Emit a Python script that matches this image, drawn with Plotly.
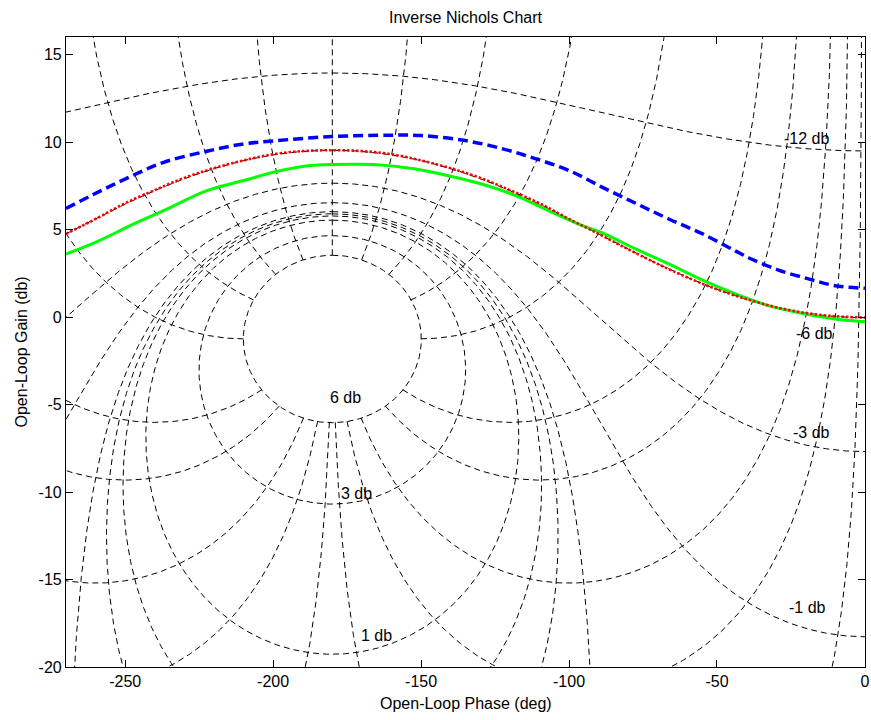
import numpy as np
import plotly.graph_objects as go

# ---------------- chart data ----------------
# closed-loop magnitude contours (dB) and closed-loop phase contours (deg) of the grid
grid_mag_db = [6, 3, 1, 0.5, 0.25, 0, -1, -3, -6, -12, -20]
grid_phase_deg = [1, 5, 10, 20, 30, 60, 90, 120, 150, 180]

label_text = ["6 db", "3 db", "1 db", "-1 db", "-3 db", "-6 db", "-12 db"]
label_phase = [-175.4, -171.9, -165.2, -19.5, -18.1, -17.1, -19.6]
label_gain = [-4.6, -10.1, -18.2, -16.6, -6.6, -0.95, 10.2]

x_ticks = [-250, -200, -150, -100, -50, 0]
y_ticks = [-20, -15, -10, -5, 0, 5, 10, 15]

blue_phase = [-270, -259, -248.3, -237, -222.4, -210, -198.8, -180, -160, -150, -135, -122.4,
              -111.2, -100, -88.7, -77.5, -66.3, -55, -43.8, -38.2, -29.2, -19.1, -10.1, 0]
blue_gain = [6.2, 7.15, 8.02, 8.84, 9.47, 9.89, 10.08, 10.31, 10.39, 10.37, 10.08, 9.61,
             9.04, 8.37, 7.41, 6.5, 5.6, 4.76, 3.78, 3.3, 2.68, 2.18, 1.79, 1.64]

red_phase = [-270, -260, -250, -240, -230, -220, -210, -200, -190, -180, -170, -160, -150,
             -140, -130, -120, -110, -100, -90, -80, -70, -60, -50, -40, -30, -20, -10, 0]
red_gain = [4.75, 5.6, 6.5, 7.25, 7.95, 8.5, 8.95, 9.3, 9.48, 9.53, 9.48, 9.3, 8.95,
            8.5, 7.95, 7.25, 6.5, 5.6, 4.75, 3.87, 3.03, 2.26, 1.58, 1.02, 0.56, 0.23, 0.04, -0.03]

green_phase = [-270, -259.5, -248.3, -237, -222.4, -210, -198.8, -190, -180, -166, -152, -140,
               -129, -118, -107, -95.5, -88.7, -77.5, -66.3, -55, -43.8, -32.6, -21.3, -10.1, 0]
green_gain = [3.6, 4.31, 5.22, 6.08, 7.22, 7.8, 8.31, 8.6, 8.71, 8.71, 8.46, 8.04,
              7.57, 6.94, 6.08, 5.22, 4.8, 3.89, 3.03, 2.12, 1.32, 0.65, 0.21, -0.11, -0.27]

# ---------------- grid construction ----------------
PX_PER_DEG = 2.967
PX_PER_DB = 17.49


def to_nichols(w):
    ang = np.degrees(np.angle(w))
    ph = np.where(ang > 0, ang - 360.0, ang)
    with np.errstate(divide="ignore"):
        g = 20 * np.log10(np.abs(w))
    return ph, g


def segments(ph, g, xs, ys):
    ok = np.isfinite(g) & (g > -30) & (g < 22) & (ph > -300) & (ph < 10)
    cur_x, cur_y = [], []
    last = None
    prev_i = None

    def flush():
        if len(cur_x) > 1:
            xs.extend(cur_x + [None])
            ys.extend(cur_y + [None])

    for i in range(len(ph)):
        if not ok[i] or (prev_i is not None and abs(ph[i] - ph[prev_i]) > 90):
            if prev_i is not None and (not cur_x or cur_x[-1] != ph[prev_i]):
                cur_x.append(float(ph[prev_i]))
                cur_y.append(float(g[prev_i]))
            flush()
            cur_x, cur_y = [], []
            last = None
            prev_i = i if ok[i] else None
            if ok[i]:
                cur_x.append(float(ph[i])); cur_y.append(float(g[i])); last = (ph[i], g[i])
            continue
        if last is None:
            cur_x.append(float(ph[i])); cur_y.append(float(g[i])); last = (ph[i], g[i])
        else:
            d = np.hypot((ph[i] - last[0]) * PX_PER_DEG, (g[i] - last[1]) * PX_PER_DB)
            if d > 1.5:
                cur_x.append(float(ph[i])); cur_y.append(float(g[i])); last = (ph[i], g[i])
        prev_i = i
    if prev_i is not None and cur_x and cur_x[-1] != ph[prev_i]:
        cur_x.append(float(ph[prev_i])); cur_y.append(float(g[prev_i]))
    flush()


mag_x, mag_y = [], []
alpha = np.linspace(-np.pi, np.pi, 40001)
for m in grid_mag_db:
    R = 10 ** (-m / 20.0)
    w = -1 + R * np.exp(1j * alpha)
    ph, g = to_nichols(w)
    segments(ph, g, mag_x, mag_y)

ph_x, ph_y = [], []
t = np.concatenate([np.linspace(0.5, 0.95, 600), np.linspace(0.95, 1.05, 6000),
                    np.linspace(1.05, 15, 4000)])
thetas = sorted(set([p for p in grid_phase_deg] + [-p for p in grid_phase_deg if p != 180]))
for th in thetas:
    w = -1 + t * np.exp(1j * np.radians(th))
    ph, g = to_nichols(w)
    segments(ph, g, ph_x, ph_y)

fig = go.Figure()
grid_line = dict(color="black", width=1, dash="6px,4px")
fig.add_trace(go.Scatter(x=mag_x, y=mag_y, mode="lines", line=grid_line, hoverinfo="skip"))
fig.add_trace(go.Scatter(x=ph_x, y=ph_y, mode="lines", line=grid_line, hoverinfo="skip"))

fig.add_trace(go.Scatter(x=blue_phase, y=blue_gain, mode="lines", line_shape="spline",
                         line=dict(color="#0000ff", width=3.5, dash="10px,5px")))
fig.add_trace(go.Scatter(x=green_phase, y=green_gain, mode="lines", line_shape="spline",
                         line=dict(color="#00ff00", width=3)))
fig.add_trace(go.Scatter(x=red_phase, y=red_gain, mode="lines", line_shape="spline",
                         line=dict(color="#ff0000", width=2.6, dash="2.5px,2px")))

for txt, xp, yp in zip(label_text, label_phase, label_gain):
    fig.add_annotation(x=xp, y=yp, text=txt, showarrow=False, xanchor="center",
                       yanchor="middle", font=dict(size=16, color="black"))

FONT = "Liberation Sans, Arial, Helvetica, sans-serif"
axis_common = dict(showline=True, linecolor="black", linewidth=1.2, mirror="ticks",
                   ticks="inside", ticklen=7, tickcolor="black", tickwidth=1,
                   showgrid=False, zeroline=False, automargin=False,
                   tickfont=dict(size=16, color="black"))
fig.update_xaxes(range=[-270, 0.02], tickvals=x_ticks, ticktext=[str(v) for v in x_ticks],
                 **axis_common)
fig.update_yaxes(range=[-20, 16], tickvals=y_ticks, ticktext=[str(v) for v in y_ticks],
                 **axis_common)

fig.add_annotation(text="Open-Loop Phase (deg)", xref="paper", yref="paper", x=0.5,
                   y=-(703 - 667) / 630, showarrow=False, xanchor="center", yanchor="middle",
                   font=dict(size=16, color="black"))
fig.add_annotation(text="Open-Loop Gain (db)", xref="paper", yref="paper",
                   x=(20.5 - 66) / 799, y=0.5, textangle=-90, showarrow=False,
                   xanchor="center", yanchor="middle", font=dict(size=16, color="black"))

fig.update_layout(
    width=871, height=720,
    margin=dict(l=66, r=6, t=37, b=53, autoexpand=False),
    paper_bgcolor="white", plot_bgcolor="white",
    showlegend=False,
    font=dict(family=FONT, size=16, color="black"),
    title=dict(text="Inverse Nichols Chart", xref="paper", x=0.5, xanchor="center",
               yref="container", y=1 - 17 / 720, yanchor="middle",
               font=dict(size=16, color="black")),
)

fig.write_html("out.html", config={"displayModeBar": False},
               post_script="document.body.style.margin='0px';document.body.style.overflow='hidden';")
